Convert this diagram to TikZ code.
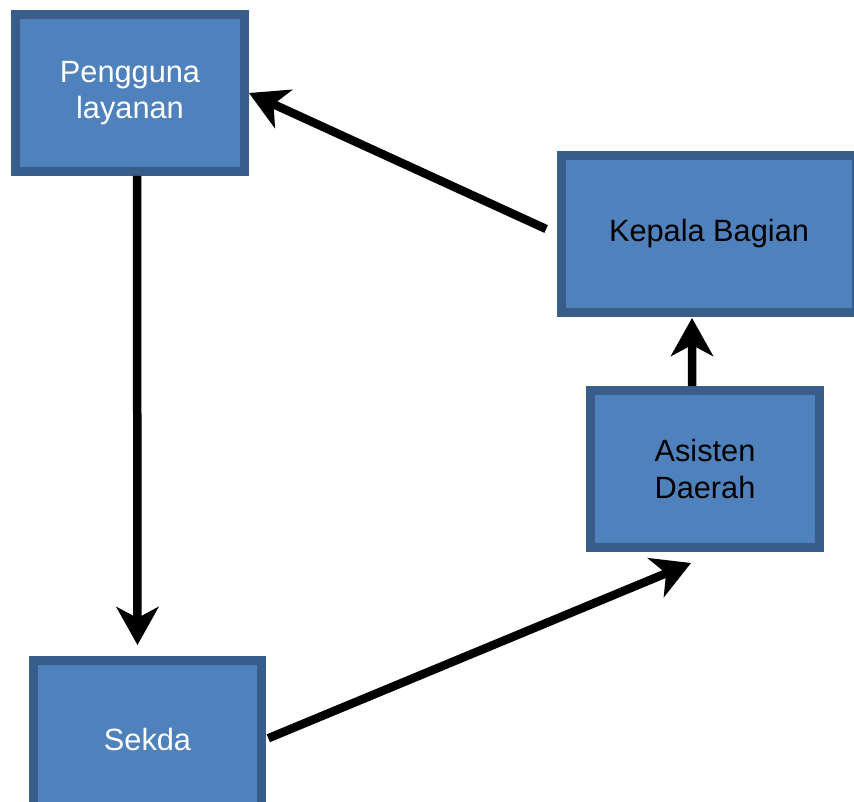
\documentclass[tikz,border=0pt]{standalone}
\usepackage{fontspec}
\setmainfont{Liberation Sans}
\usetikzlibrary{arrows.meta}
\definecolor{boxfill}{HTML}{4F81BD}
\definecolor{boxline}{HTML}{385D8A}
\begin{document}
\begin{tikzpicture}[x=0.02cm, y=-0.02cm,
    box/.style={rectangle, fill=boxfill, draw=boxline, line width=0.18cm, minimum width=4.58cm, minimum height=3.14cm, inner sep=0pt, align=center, font=\fontsize{17.5}{20.5}\selectfont},
    flow/.style={line width=0.17cm, black, -{Stealth[length=0.76cm, width=0.84cm, inset=0.22cm]}}]
            \useasboundingbox (0,0) rectangle (854,801);
            \node[box, text=white] (pengguna) at (130,93) {Pengguna\\layanan};
            \node[box, minimum width=5.9cm] (kepala) at (709,234) {Kepala Bagian};
            \node[box] (asisten) at (705,469) {Asisten\\Daerah};
            \node[box, text=white] (sekda) at (147.5,739) {Sekda};
            
            \draw[flow, shorten >=0.22cm] ([xshift=0.14cm]pengguna.south) -- ([xshift=-0.2cm]sekda.north);
            \draw[flow, shorten <=0.04cm] (sekda.east) -- ([xshift=-0.28cm, yshift=-0.22cm]asisten.south);
            \draw[flow, shorten >=0.02cm] ([xshift=-0.26cm]asisten.north) -- ([xshift=-0.34cm]kepala.south);
            \draw[flow, shorten <=0.24cm] (kepala.west) -- (pengguna.east);
        \end{tikzpicture}
\end{document}
